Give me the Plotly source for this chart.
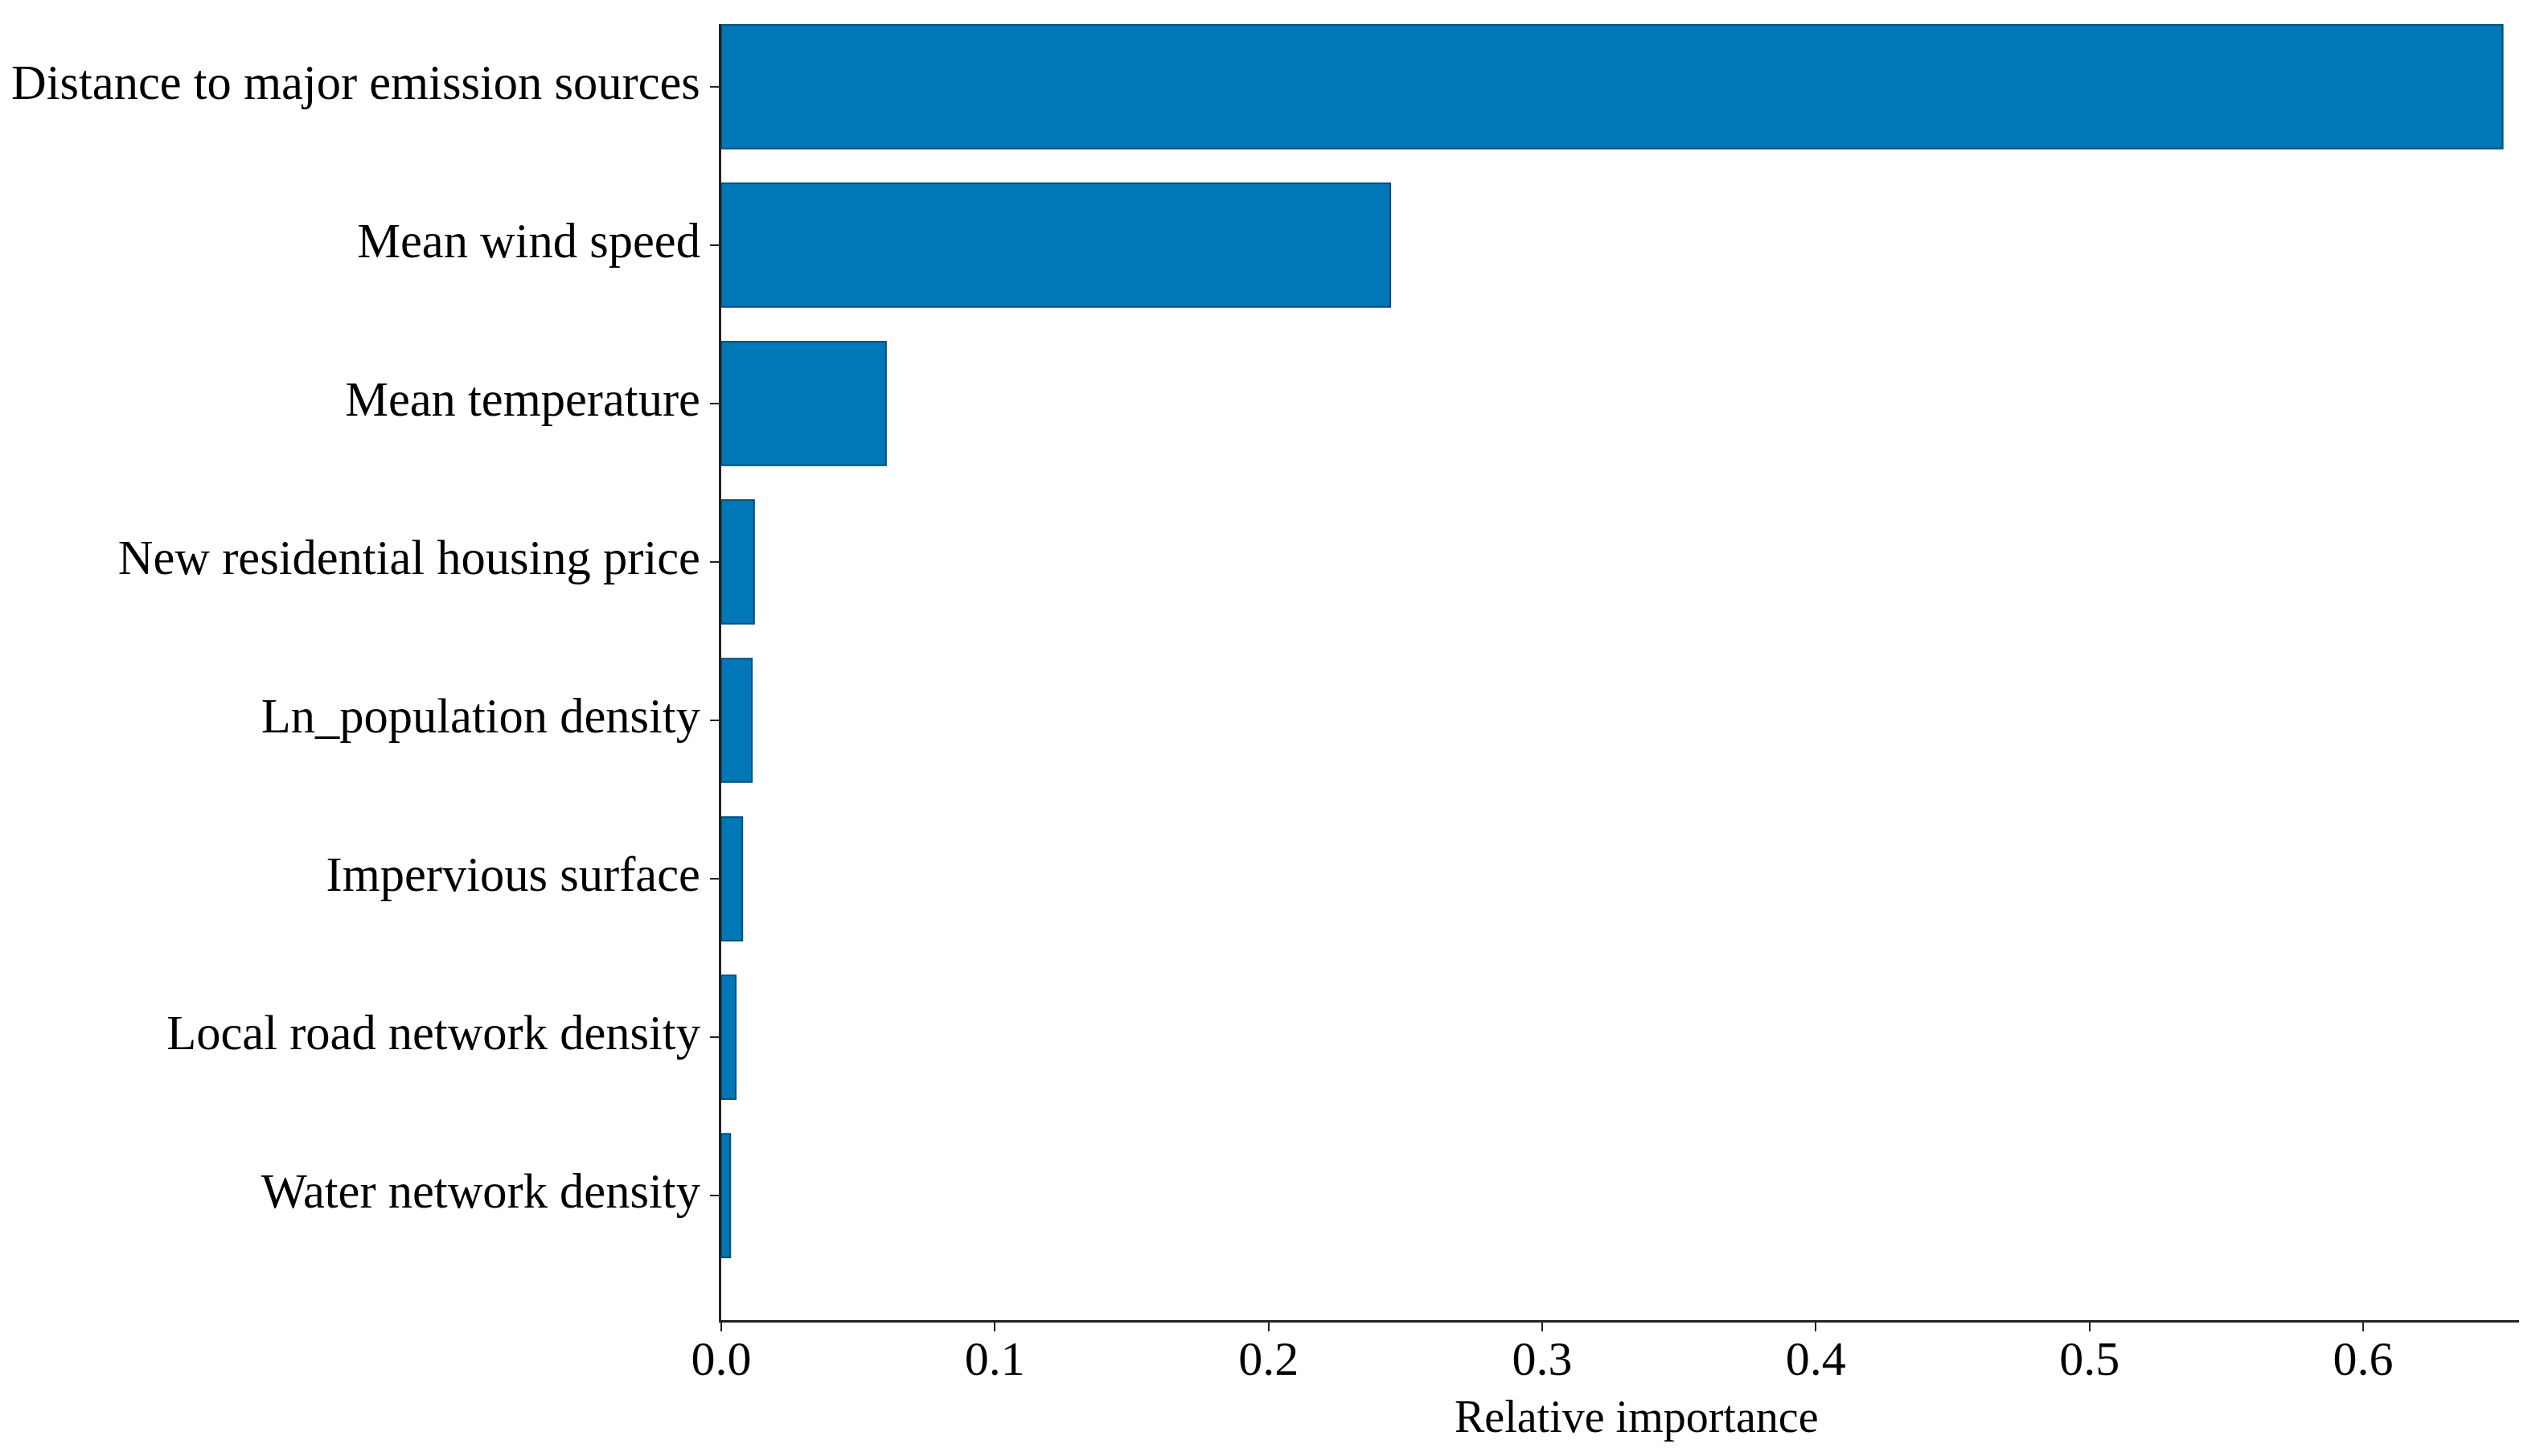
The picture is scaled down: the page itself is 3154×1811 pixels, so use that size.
import plotly.graph_objects as go

categories = [
    "Distance to major emission sources",
    "Mean wind speed",
    "Mean temperature",
    "New residential housing price",
    "Ln_population density",
    "Impervious surface",
    "Local road network density",
    "Water network density",
]
importance = [0.651, 0.2445, 0.0602, 0.0120, 0.0112, 0.0077, 0.0053, 0.0033]
x_ticks = [0.0, 0.1, 0.2, 0.3, 0.4, 0.5, 0.6]
x_tick_text = ["0.0", "0.1", "0.2", "0.3", "0.4", "0.5", "0.6"]

FONT = "Liberation Serif, Times New Roman, serif"
W, H = 3154, 1811
L, R, T, B = 897, 21, 30, 169

fig = go.Figure()
fig.add_trace(go.Bar(
    x=importance,
    y=categories,
    orientation="h",
    width=0.78,
    marker=dict(color="#0077B6", line=dict(color="#00507F", width=2)),
))

fig.update_layout(
    width=W, height=H,
    margin=dict(l=L, r=R, t=T, b=B, pad=0),
    paper_bgcolor="white",
    plot_bgcolor="white",
    showlegend=False,
    font=dict(family=FONT, size=60, color="black"),
)

fig.update_xaxes(
    range=[0, 0.657],
    tickvals=x_ticks,
    ticktext=x_tick_text,
    showgrid=False,
    zeroline=False,
    showline=True,
    linecolor="#222222",
    linewidth=3,
    ticks="outside",
    ticklen=11,
    tickwidth=2,
    tickcolor="#222222",
    tickfont=dict(family=FONT, size=60, color="black"),
    ticklabelstandoff=-18,
)

fig.update_yaxes(
    type="category",
    categoryorder="array",
    categoryarray=categories,
    range=[7.786, -0.395],
    showgrid=False,
    zeroline=False,
    showline=True,
    linecolor="#222222",
    linewidth=3,
    ticks="outside",
    ticklen=11,
    tickwidth=2,
    tickcolor="#222222",
    tickfont=dict(family=FONT, size=60.5, color="black"),
    ticklabelshift=6,
)

fig.add_annotation(
    text="Relative importance",
    xref="paper", yref="paper",
    x=0.509, y=-(1762 - (H - B)) / (H - B - T),
    xanchor="center", yanchor="middle",
    showarrow=False,
    font=dict(family=FONT, size=56, color="black"),
)

fig.write_html("out.html", config={"displayModeBar": False},
               post_script="document.body.style.margin='0';")
